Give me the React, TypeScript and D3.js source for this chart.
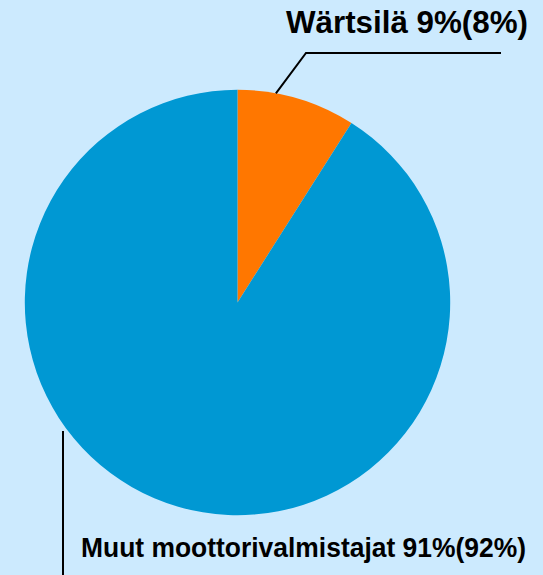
import React from "react";
import * as d3 from "d3";

const labels = ["Wärtsilä 9%(8%)", "Muut moottorivalmistajat 91%(92%)"];
const values = [9, 91];
const colors = ["#ff7700", "#0098d3"];

const W = 543;
const H = 575;
const cx = 237.5;
const cy = 302.5;
const R = 212.7;

export default function App() {
  const pie = d3.pie<number>().sort(null).value((d) => d);
  const arcs = pie(values);
  const arc = d3.arc<d3.PieArcDatum<number>>().innerRadius(0).outerRadius(R);

  // leader start point on the circumference
  const a0 = 10.4 * (Math.PI / 180);
  const w0 = [cx + R * Math.sin(a0), cy - R * Math.cos(a0)];

  return (
    <svg
      width={W}
      height={H}
      style={{ position: "absolute", left: 0, top: 0, display: "block" }}
    >
      <rect x={0} y={0} width={W} height={H} fill="#cceafe" />
      <g transform={`translate(${cx},${cy})`}>
        {arcs.map((a, i) => (
          <path key={i} d={arc(a) || ""} fill={colors[i]} />
        ))}
      </g>
      <polyline
        points={`${w0[0]},${w0[1]} 306,53 501,53`}
        fill="none"
        stroke="#000"
        strokeWidth={2}
      />
      <line x1={63} y1={431} x2={63} y2={H + 5} stroke="#000" strokeWidth={2} />
      <text
        x={286}
        y={33}
        fontFamily="Liberation Sans, Arial, sans-serif"
        fontWeight="bold"
        fontSize={31}
        textLength={242}
        lengthAdjust="spacingAndGlyphs"
        fill="#000"
      >
        {labels[0]}
      </text>
      <text
        x={81}
        y={557}
        fontFamily="Liberation Sans, Arial, sans-serif"
        fontWeight="bold"
        fontSize={27.5}
        textLength={445}
        lengthAdjust="spacingAndGlyphs"
        fill="#000"
      >
        {labels[1]}
      </text>
    </svg>
  );
}
